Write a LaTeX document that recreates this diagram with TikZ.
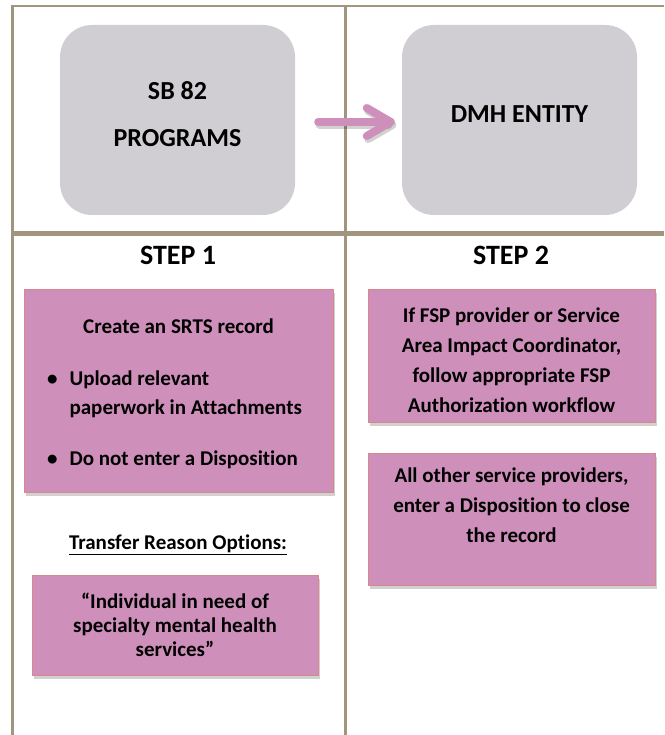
\documentclass[tikz,border=0pt]{standalone}
\usepackage{fontspec}
\setmainfont{Carlito}[Ligatures=CommonOff]
\usetikzlibrary{shadows,arrows.meta}
\definecolor{rule}{RGB}{160,150,128}
\definecolor{gry}{RGB}{208,206,210}
\definecolor{pnk}{RGB}{207,143,187}
\definecolor{rim}{RGB}{216,136,140}

\tikzset{
  greybox/.style={fill=gry, rounded corners=32pt, minimum width=235pt, minimum height=190pt,
    align=center, font=\fontsize{26}{47}\selectfont\bfseries},
  pinkbox/.style={fill=pnk, draw=rim, line width=0.8pt, align=center,
    font=\fontsize{21}{30}\selectfont\bfseries,
    drop shadow={shadow xshift=2pt, shadow yshift=-4pt, opacity=0.3, fill=black!60}},
  heading/.style={font=\fontsize{28}{34}\selectfont\bfseries},
  pnkarrow/.style={draw=pnk, line width=8pt, line cap=round,
    -{Straight Barb[length=24pt, width=28pt, round]}}
}

\begin{document}
\begin{tikzpicture}[x=1pt, y=-1pt]
    \useasboundingbox (0,0) rectangle (664,735);
    % table rules
    \draw[rule, line width=3pt] (12.5,5) -- (12.5,735);
    \draw[rule, line width=2pt] (11,6) -- (664,6);
    \draw[rule, line width=3pt] (345.5,6) -- (345.5,735);
    \draw[rule, line width=5pt] (11,233) -- (664,233);

    \node[greybox] (sbbox) at (177.5,120) {SB 82\\PROGRAMS\rule[-12pt]{0pt}{12pt}};
    \node[greybox] (dmhbox) at (519.5,120) {DMH ENTITY\rule[-12pt]{0pt}{12pt}};
    \draw[pnkarrow, draw=black, opacity=0.18, transform canvas={shift={(1.5pt,-3pt)}},
      shorten <=23pt, shorten >=7pt] ([yshift=-2pt]sbbox.east) -- ([yshift=-2pt]dmhbox.west);
    \draw[pnkarrow, shorten <=23pt, shorten >=7pt] ([yshift=-2pt]sbbox.east) -- ([yshift=-2pt]dmhbox.west);

    \node[heading] (step1) at (178,255) {STEP 1};
    \node[heading] (step2) at (511,255) {STEP 2};

    \node[pinkbox, font=\fontsize{21}{29}\selectfont\bfseries, minimum width=309pt, minimum height=203pt]
      (createbox) at (178.5,390.5) {\rule{0pt}{27pt}Create an SRTS record\\[23pt]
      \begin{tabular}[t]{@{}l@{\hspace{12pt}}l@{}}
        \textbullet & Upload relevant\\
                    & paperwork in Attachments\\[22pt]
        \textbullet & Do not enter a Disposition
      \end{tabular}\hspace*{8pt}};
    \node[font=\fontsize{21}{25}\selectfont\bfseries] (transfer) at (178,545)
      {\underline{Transfer Reason Options:}};
    \node[pinkbox, font=\fontsize{21}{24}\selectfont\bfseries, minimum width=286pt, minimum height=100pt]
      (reasonbox) at (175,625) {“Individual in need of\\specialty mental health\\services”};

    \node[pinkbox, minimum width=287pt, minimum height=133pt] (fspbox) at (511.5,355.5)
      {\rule{0pt}{24pt}If FSP provider or Service\\Area Impact Coordinator,\\follow appropriate FSP\\Authorization workflow};
    \node[pinkbox, anchor=north, minimum width=287pt, minimum height=132pt] (otherbox) at (511.5,453)
      {All other service providers,\\enter a Disposition to close\\the record\rule[-28pt]{0pt}{28pt}};
\end{tikzpicture}
\end{document}
